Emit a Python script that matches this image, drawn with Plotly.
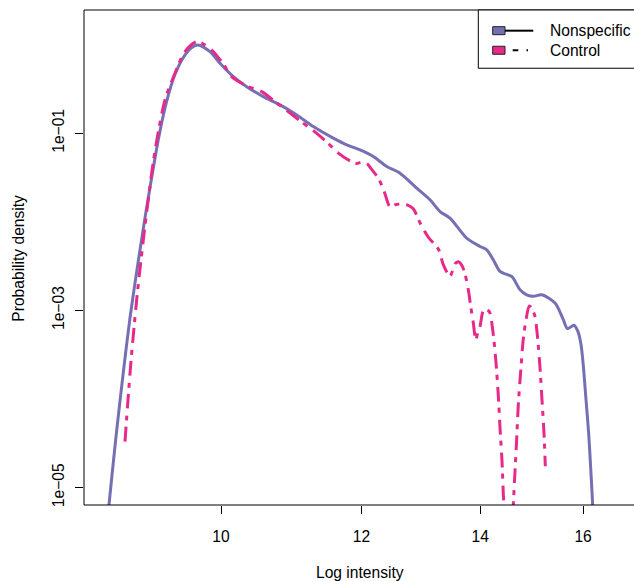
import plotly.graph_objects as go

# Kernel density estimates of log intensities (x: log intensity, y: density)
ns_x = [8.580, 8.647, 8.726, 8.806, 8.886, 8.979, 9.072, 9.155, 9.227, 9.311,
        9.408, 9.519, 9.618, 9.702, 9.858, 9.987, 10.161, 10.339, 10.564, 10.796,
        11.033, 11.273, 11.569, 11.772, 11.977, 12.186, 12.400, 12.615, 12.892, 13.116,
        13.288, 13.461, 13.756, 13.996, 14.118, 14.239, 14.364, 14.476, 14.589, 14.742,
        14.870, 14.998, 15.163, 15.427, 15.594, 15.679, 15.812, 15.894, 15.956, 16.004,
        16.060, 16.113, 16.154, 16.200, 16.249]
ns_y = [1.36e-6, 6.45e-6, 3.77e-5, 1.884e-4, 8.27e-4, 3.45e-3, 0.01296, 0.03858, 0.0932, 0.2140,
        0.4312, 0.7061, 0.9157, 0.990, 0.832, 0.6154, 0.4346, 0.3352, 0.2586, 0.2085,
        0.1608, 0.1187, 0.0878, 0.0738, 0.0648, 0.0545, 0.0420, 0.0354, 0.0240, 0.0177,
        0.01306, 0.01101, 0.00655, 0.00527, 0.00483, 0.00373, 0.00275, 0.00256, 0.00240, 0.00171,
        0.00150, 0.00144, 0.00150, 0.00121, 7.86e-4, 6.22e-4, 6.81e-4, 5.75e-4, 4.11e-4, 2.38e-4,
        9.84e-5, 4.29e-5, 1.82e-5, 6.28e-6, 1.55e-6]

ct_x = [8.828, 8.863, 8.897, 8.932, 8.967, 9.002, 9.037, 9.072, 9.108, 9.143,
        9.203, 9.299, 9.420, 9.543, 9.690, 9.794, 9.880, 10.030, 10.140, 10.339,
        10.542, 10.726, 10.890, 11.080, 11.273, 11.471, 11.645, 11.823, 11.915, 12.008,
        12.087, 12.165, 12.265, 12.356, 12.453, 12.534, 12.632, 12.731, 12.835, 12.947,
        13.088, 13.259, 13.345, 13.461, 13.549, 13.607, 13.673, 13.726, 13.785, 13.828,
        13.875, 13.918, 13.960, 13.996, 14.056, 14.105, 14.166, 14.228, 14.289, 14.332,
        14.364, 14.401, 14.426, 14.448, 14.514, 14.580, 14.614, 14.646, 14.679, 14.709,
        14.755, 14.805, 14.857, 14.921, 14.973, 15.031, 15.076, 15.129, 15.169, 15.208,
        15.234]
ct_y = [3.31e-5, 9.84e-5, 2.64e-4, 6.38e-4, 1.427e-3, 2.95e-3, 5.80e-3, 0.01110, 0.02069, 0.03758,
        0.0862, 0.2373, 0.4747, 0.832, 1.078, 0.990, 0.869, 0.6045, 0.4346, 0.3415,
        0.2944, 0.2272, 0.1807, 0.1376, 0.1070, 0.0797, 0.0595, 0.0487, 0.0456, 0.0469,
        0.0451, 0.0386, 0.0311, 0.02236, 0.01476, 0.01555, 0.01595, 0.01555, 0.01401, 0.00974,
        0.00669, 0.00492, 0.00327, 0.00243, 0.00336, 0.00354, 0.00319, 0.00257, 0.00171, 0.001109,
        7.21e-4, 4.67e-4, 5.75e-4, 6.60e-4, 9.92e-4, 1.018e-3, 9.67e-4, 6.06e-4, 2.59e-4, 1.092e-4,
        4.72e-5, 1.984e-5, 8.36e-6, 4.37e-6, 1.5e-7, 2.60e-6, 6.45e-6, 1.531e-5, 3.64e-5, 8.65e-5,
        2.05e-4, 4.80e-4, 7.86e-4, 1.121e-3, 1.045e-3, 8.56e-4, 5.32e-4, 2.26e-4, 9.67e-5, 4.07e-5,
        1.743e-5]

x_ticks = [10, 12, 14, 16]
x_tick_text = ["10", "12", "14", "16"]
y_ticks = [1e-5, 1e-3, 1e-1]
y_tick_text = ["1e\u221205", "1e\u221203", "1e\u221201"]

series_names = ["Nonspecific", "Control"]
series_colors = ["#7570B3", "#E7298A"]

FONT = "Liberation Sans, Arial, Helvetica, sans-serif"
FS = 15.6
W, H = 634, 581
ML, MT, MB = 84, 10, 75.5
PW, PH = W - ML, H - MT - MB


def px(x):
    return (x - ML) / PW


def py(y):
    return (MT + PH - y) / PH


fig = go.Figure()
fig.add_trace(go.Scatter(
    x=ns_x, y=ns_y, mode="lines", name=series_names[0], showlegend=False,
    line=dict(color=series_colors[0], width=3, shape="spline", smoothing=0.8)))
fig.add_trace(go.Scatter(
    x=ct_x, y=ct_y, mode="lines", name=series_names[1], showlegend=False,
    line=dict(color=series_colors[1], width=3, shape="spline", smoothing=0.8,
              dash="15px,6px,5px,7px")))

axis_common = dict(
    type="log", showgrid=False, zeroline=False, showline=False,
    ticks="outside", ticklen=8, tickwidth=1, tickcolor="black",
    tickfont=dict(family=FONT, size=FS, color="black"),
)

fig.update_layout(
    width=W, height=H,
    margin=dict(l=ML, r=0, t=MT, b=MB, pad=0),
    paper_bgcolor="white", plot_bgcolor="white",
    font=dict(family=FONT, size=FS, color="black"),
    xaxis=dict(axis_common, range=[0.92277, 1.23280],
               tickvals=x_ticks, ticktext=x_tick_text, tickangle=0,
               ticklabelstandoff=9),
    yaxis=dict(axis_common, range=[-5.19617, 0.39008],
               tickvals=y_ticks, ticktext=y_tick_text, tickangle=-90,
               ticklabelstandoff=5),
)

shapes = []
# plot frame (right side runs past the page edge)
shapes.append(dict(type="rect", xref="paper", yref="paper", x0=0, x1=1.01, y0=0, y1=1,
                   line=dict(color="black", width=1)))
# legend frame
shapes.append(dict(type="rect", xref="paper", yref="paper",
                   x0=px(478.3), x1=1.05, y0=py(68.3), y1=1.0,
                   fillcolor="white", line=dict(color="black", width=1)))
row_y = [30.7, 50.3]
for i, (name, col) in enumerate(zip(series_names, series_colors)):
    yc = row_y[i]
    shapes.append(dict(type="rect", xref="paper", yref="paper",
                       x0=px(492.7), x1=px(505), y0=py(yc + 4), y1=py(yc - 4),
                       fillcolor=col, line=dict(color="#222", width=1)))
    fig.add_annotation(x=px(548.3), y=py(yc), xref="paper", yref="paper",
                       text=name, showarrow=False, xanchor="left", yanchor="middle",
                       font=dict(family=FONT, size=FS, color="black"))
# legend line keys
shapes.append(dict(type="line", xref="paper", yref="paper",
                   x0=px(505), x1=px(533.3), y0=py(row_y[0]), y1=py(row_y[0]),
                   line=dict(color="black", width=2)))
shapes.append(dict(type="line", xref="paper", yref="paper",
                   x0=px(512.7), x1=px(518.3), y0=py(row_y[1]), y1=py(row_y[1]),
                   line=dict(color="black", width=2)))
shapes.append(dict(type="line", xref="paper", yref="paper",
                   x0=px(526.5), x1=px(528), y0=py(row_y[1]), y1=py(row_y[1]),
                   line=dict(color="black", width=2)))
fig.update_layout(shapes=shapes)

# axis titles
fig.add_annotation(x=px(360), y=py(573.5), xref="paper", yref="paper",
                   text="Log intensity", showarrow=False, xanchor="center", yanchor="middle",
                   font=dict(family=FONT, size=FS, color="black"))
fig.add_annotation(x=px(18.9), y=py(258), xref="paper", yref="paper",
                   text="Probability density", showarrow=False, textangle=-90,
                   xanchor="center", yanchor="middle",
                   font=dict(family=FONT, size=FS, color="black"))

fig.write_html("out.html")
